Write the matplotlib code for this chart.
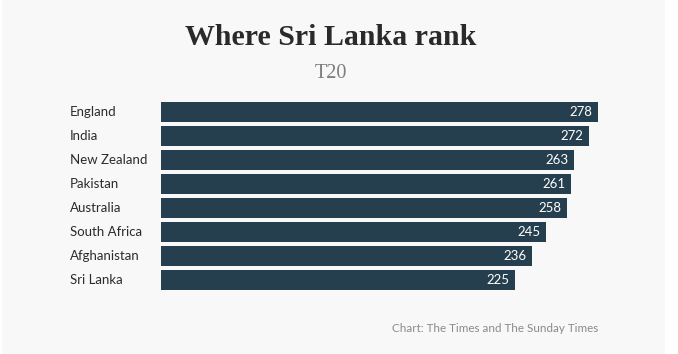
import matplotlib
matplotlib.use("Agg")
import matplotlib.pyplot as plt
import matplotlib.transforms as mtransforms
from matplotlib.patches import Rectangle

# Data
teams = ['England', 'India', 'New Zealand', 'Pakistan', 'Australia',
         'South Africa', 'Afghanistan', 'Sri Lanka']
points = [278, 272, 263, 261, 258, 245, 236, 225]

BAR_COLOR = '#263f4e'
W, H = 678, 354

fig = plt.figure(figsize=(W / 100, H / 100), dpi=100, facecolor='white')
# light grey card behind everything
fig.patches.append(Rectangle((2 / W, 0), 663 / W, 1, transform=fig.transFigure,
                             facecolor='#f8f8f8', edgecolor='none', zorder=-10))

# axes spans the bar area in pixels: x 161..598, y 101.7..290
ax = fig.add_axes([161 / W, (H - 290) / H, (598 - 161) / W, (290 - 101.7) / H])
ax.set_facecolor('none')

y = list(range(len(teams)))
ax.barh(y, points, height=0.83, color=BAR_COLOR)
ax.set_xlim(0, max(points))
ax.set_ylim(len(teams) - 1 + 0.415, -0.415)
ax.axis('off')

lab_tr = mtransforms.blended_transform_factory(fig.transFigure, ax.transData)
for i, (t, v) in enumerate(zip(teams, points)):
    ax.text(70 / W, i, t, transform=lab_tr, ha='left', va='center',
            fontsize=9.5, family='Lato', color='#2b2b2b')
    ax.annotate(str(v), xy=(v, i), xytext=(-4, 0), textcoords='offset points',
                ha='right', va='center', fontsize=9.5, family='Lato', color='white')

fig.text(331 / W, 1 - 45 / H, 'Where Sri Lanka rank', ha='center', va='baseline',
         fontsize=21.5, fontweight='bold', family='Liberation Serif', color='#2a2a2a')
fig.text(331 / W, 1 - 78 / H, 'T20', ha='center', va='baseline',
         fontsize=14.5, family='Liberation Serif', color='#7d7d7d')
fig.text(598 / W, 1 - 331.5 / H, 'Chart: The Times and The Sunday Times',
         ha='right', va='baseline', fontsize=8.4, family='Lato', color='#8a8a8a')

fig.savefig('out.png', dpi=100, facecolor=fig.get_facecolor())
